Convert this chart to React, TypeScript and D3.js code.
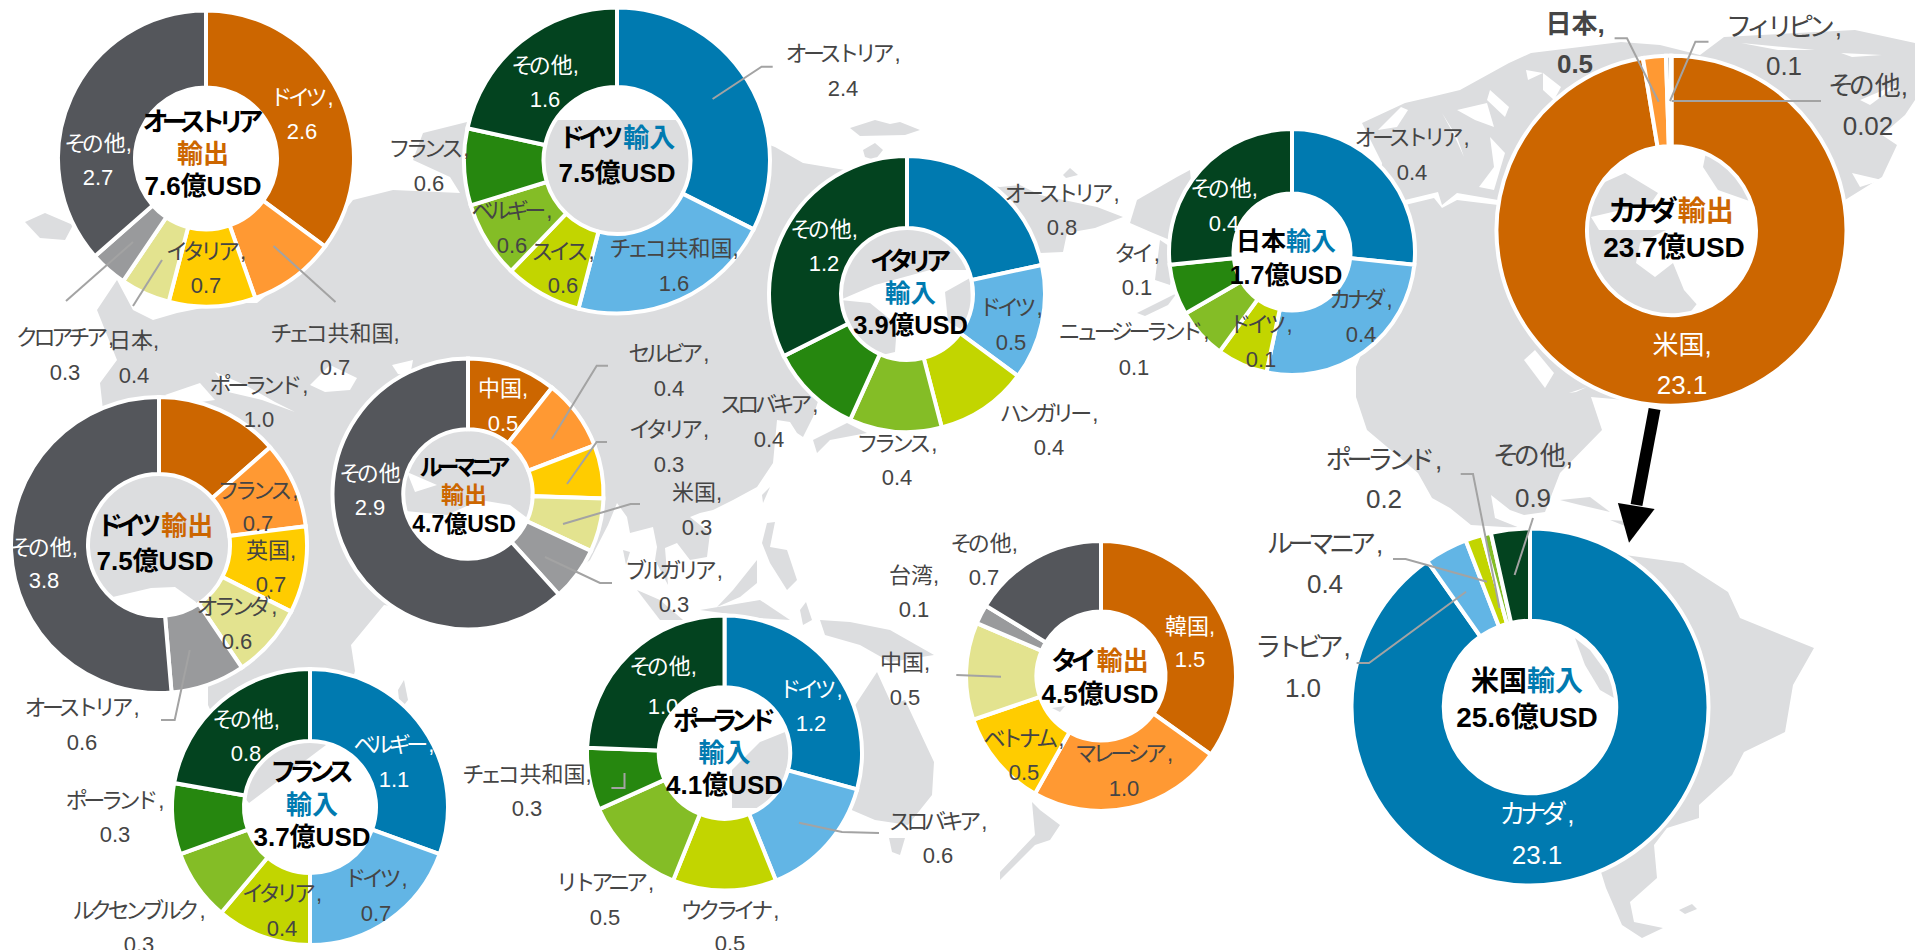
import React from "react";
import * as d3 from "d3";

const WIDTH = 1915;
const HEIGHT = 950;
const FONT = '"Liberation Sans", "Noto Sans CJK JP", sans-serif';
const ORANGE = "#CC6600";
const BLUE = "#007AB0";
const LABEL = "#454545";
const LEADER = "#A3A3A3";

const exportColors = ["#CC6600", "#FF9933", "#FFCC00", "#E3E38F", "#999A9C", "#54565B"];
const importColors = ["#007AB0", "#62B5E5", "#C2D500", "#84BD26", "#26870F", "#03431F"];

const austriaNames = ["ドイツ", "チェコ共和国", "イタリア", "日本", "クロアチア", "その他"];
const austriaValues = [2.6, 0.7, 0.7, 0.4, 0.3, 2.7];
const germanyImportNames = ["オーストリア", "チェコ共和国", "スイス", "ベルギー", "フランス", "その他"];
const germanyImportValues = [2.4, 1.6, 0.6, 0.6, 0.6, 1.6];
const italyNames = ["オーストリア", "ドイツ", "ハンガリー", "フランス", "スロバキア", "その他"];
const italyValues = [0.8, 0.5, 0.4, 0.4, 0.4, 1.2];
const japanNames = ["オーストリア", "カナダ", "ドイツ", "ニュージーランド", "タイ", "その他"];
const japanValues = [0.4, 0.4, 0.1, 0.1, 0.1, 0.4];
const canadaNames = ["米国", "日本", "フィリピン", "その他"];
const canadaValues = [23.1, 0.5, 0.1, 0.02];
const usaNames = ["カナダ", "ラトビア", "ルーマニア", "ポーランド", "その他"];
const usaValues = [23.1, 1.0, 0.4, 0.2, 0.9];
const germanyExportNames = ["ポーランド", "フランス", "英国", "オランダ", "オーストリア", "その他"];
const germanyExportValues = [1.0, 0.7, 0.7, 0.6, 0.6, 3.8];
const romaniaNames = ["中国", "セルビア", "イタリア", "米国", "ブルガリア", "その他"];
const romaniaValues = [0.5, 0.4, 0.3, 0.3, 0.3, 2.9];
const franceNames = ["ベルギー", "ドイツ", "イタリア", "ルクセンブルク", "ポーランド", "その他"];
const franceValues = [1.1, 0.7, 0.4, 0.3, 0.3, 0.8];
const polandNames = ["ドイツ", "スロバキア", "ウクライナ", "リトアニア", "チェコ共和国", "その他"];
const polandValues = [1.2, 0.6, 0.5, 0.5, 0.3, 1.0];
const thailandNames = ["韓国", "マレーシア", "ベトナム", "中国", "台湾", "その他"];
const thailandValues = [1.5, 1.0, 0.5, 0.5, 0.1, 0.7];

type Seg = { t: string; c?: string };
type Donut = {
  names: string[]; values: number[]; colors: string[];
  cx: number; cy: number; r: number;
  title: { x: number; y: number; segs: Seg[] }[]; titleSize: number;
  labels: [number, number, number][]; white: number[];
  labelSize?: number; bold?: number[]; noComma?: number[];
  leaders?: [number, number][][];
};
const exp = { t: "輸出", c: ORANGE };
const imp = { t: "輸入", c: BLUE };

const donuts: Donut[] = [
  { names: austriaNames, values: austriaValues, colors: exportColors, cx: 206, cy: 158.5, r: 146, titleSize: 26,
    title: [{ x: 203, y: 122, segs: [{ t: "オーストリア" }] }, { x: 203, y: 154, segs: [exp] }, { x: 203, y: 186, segs: [{ t: "7.6億USD" }] }],
    labels: [[302, 97, 131], [335, 333, 367], [206, 251, 285], [134, 340, 375], [65, 337, 372], [98, 143, 177]], white: [0, 5],
    leaders: [[[133, 242], [66, 301]], [[162, 260], [133, 306]], [[273.5, 246], [335.5, 302]]] },
  { names: germanyImportNames, values: germanyImportValues, colors: importColors, cx: 617, cy: 160.5, r: 151, titleSize: 26,
    title: [{ x: 617, y: 138, segs: [{ t: "ドイツ" }, imp] }, { x: 617, y: 173, segs: [{ t: "7.5億USD" }] }],
    labels: [[843, 53, 88], [674, 248, 283], [563, 251, 285], [512, 210, 245], [429, 148, 183], [545, 65, 99]], white: [5],
    leaders: [[[712.6, 99], [761.6, 66.7], [772.7, 66.7]]] },
  { names: italyNames, values: italyValues, colors: importColors, cx: 907, cy: 294, r: 136, titleSize: 25.5,
    title: [{ x: 910.6, y: 261, segs: [{ t: "イタリア" }] }, { x: 910.6, y: 293, segs: [imp] }, { x: 910.6, y: 325, segs: [{ t: "3.9億USD" }] }],
    labels: [[1062, 193, 227], [1011, 307, 342], [1049, 413, 447], [897, 443, 477], [769, 404, 439], [824, 229, 263]], white: [5] },
  { names: japanNames, values: japanValues, colors: importColors, cx: 1292, cy: 252, r: 121, titleSize: 25,
    title: [{ x: 1286, y: 241, segs: [{ t: "日本" }, imp] }, { x: 1286, y: 275, segs: [{ t: "1.7億USD" }] }],
    labels: [[1412, 137, 172], [1361, 299, 334], [1261, 324, 359], [1134, 331, 367], [1137, 253, 287], [1224, 188, 223]], white: [5] },
  { names: canadaNames, values: canadaValues, colors: ["#CC6600", "#FF9933", "#54565B", "#54565B"], cx: 1671.5, cy: 230.7, r: 173, titleSize: 28,
    title: [{ x: 1671, y: 211, segs: [{ t: "カナダ" }, exp] }, { x: 1674, y: 247, segs: [{ t: "23.7億USD" }] }],
    labels: [[1682, 345, 385], [1575, 24, 64], [1784, 27, 66], [1868, 86, 126]], white: [0], labelSize: 26, bold: [1],
    leaders: [[[1614.6, 38.3], [1627, 38.3], [1658.7, 101.7]], [[1708.5, 41.7], [1695.4, 41.7], [1670, 101]], [[1821, 101], [1671.7, 101]]] },
  { names: usaNames, values: usaValues, colors: ["#007AB0", "#62B5E5", "#C2D500", "#84BD26", "#03431F"], cx: 1530, cy: 707, r: 176.5, titleSize: 28,
    title: [{ x: 1527, y: 681, segs: [{ t: "米国" }, imp] }, { x: 1527, y: 717, segs: [{ t: "25.6億USD" }] }],
    labels: [[1537, 814, 855], [1303, 647, 688], [1325, 544, 584], [1384, 460, 499], [1533, 456, 498]], white: [0], labelSize: 26,
    leaders: [[[1356.6, 663], [1369, 663], [1466, 591.7]], [[1393, 559], [1405.6, 559], [1487, 581.7]], [[1460.7, 474], [1473, 474], [1499.5, 608]], [[1533, 518], [1514.6, 575]]] },
  { names: germanyExportNames, values: germanyExportValues, colors: exportColors, cx: 159, cy: 545, r: 146, titleSize: 26,
    title: [{ x: 155, y: 526, segs: [{ t: "ドイツ" }, exp] }, { x: 155, y: 561, segs: [{ t: "7.5億USD" }] }],
    labels: [[259, 385, 419], [258, 490, 523], [271, 550, 584], [237, 606, 641], [82, 707, 742], [44, 547, 580]], white: [5],
    leaders: [[[189.8, 650], [174.7, 720], [161, 720]]] },
  { names: romaniaNames, values: romaniaValues, colors: exportColors, cx: 468, cy: 494, r: 133.5, titleSize: 23,
    title: [{ x: 465, y: 467, segs: [{ t: "ルーマニア" }] }, { x: 464, y: 495, segs: [exp] }, { x: 464, y: 524, segs: [{ t: "4.7億USD" }] }],
    labels: [[503, 388, 423], [669, 353, 388], [669, 429, 464], [697, 492, 527], [674, 570, 604], [370, 473, 507]], white: [0, 5], noComma: [5],
    leaders: [[[608, 365.7], [596.7, 365.7], [551.8, 439]], [[607, 442], [596.7, 442], [567, 484]], [[640, 504], [630.6, 504], [563, 524]], [[612, 583], [600, 583], [545, 557]]] },
  { names: franceNames, values: franceValues, colors: importColors, cx: 310, cy: 807, r: 136, titleSize: 26,
    title: [{ x: 312, y: 772, segs: [{ t: "フランス" }] }, { x: 312, y: 805, segs: [imp] }, { x: 312, y: 837, segs: [{ t: "3.7億USD" }] }],
    labels: [[394, 744, 779], [376, 878, 913], [282, 893, 928], [139, 910, 944], [115, 800, 834], [246, 719, 753]], white: [0, 5] },
  { names: polandNames, values: polandValues, colors: importColors, cx: 724.5, cy: 753, r: 135.5, titleSize: 26,
    title: [{ x: 724.5, y: 721, segs: [{ t: "ポーランド" }] }, { x: 724.5, y: 753, segs: [imp] }, { x: 724.5, y: 785, segs: [{ t: "4.1億USD" }] }],
    labels: [[811, 689, 723], [938, 821, 855], [730, 910, 943], [605, 882, 917], [527, 774, 808], [663, 666, 706]], white: [0, 5],
    leaders: [[[799, 822.7], [842, 832], [879, 833]], [[624.5, 773], [624.5, 788], [611.4, 788]]] },
  { names: thailandNames, values: thailandValues, colors: exportColors, cx: 1101, cy: 676, r: 133, titleSize: 26,
    title: [{ x: 1100, y: 661, segs: [{ t: "タイ" }, exp] }, { x: 1100, y: 694, segs: [{ t: "4.5億USD" }] }],
    labels: [[1190, 626, 659], [1124, 753, 788], [1024, 738, 772], [905, 662, 697], [914, 575, 609], [984, 543, 577]], white: [0],
    leaders: [[[956.3, 675], [1001, 676.7]]] },
];

// Background world map outline (decoration, traced roughly)
const landShapes: [number, number][][] = [
  // Eurasia + Africa
  [[103, 410], [100, 383], [117, 360], [97, 310], [117, 280], [133, 310], [153, 320], [177, 313], [227, 303], [257, 303], [300, 268], [353, 200], [393, 190], [460, 193], [450, 177], [413, 160], [423, 133], [467, 122], [560, 120], [700, 120], [775, 147], [803, 163], [845, 170], [900, 175], [1000, 187], [1020, 185], [1040, 195], [1097, 207], [1123, 217], [1095, 228], [1067, 233], [1063, 252], [1040, 253], [1000, 260], [968, 270], [930, 270], [875, 285], [840, 300], [870, 303], [897, 325], [895, 352], [860, 360], [820, 395], [813, 417], [803, 437], [797, 433], [790, 422], [777, 420], [773, 463], [757, 487], [733, 500], [713, 510], [700, 513], [690, 517], [710, 533], [707, 557], [690, 560], [677, 543], [665, 548], [668, 585], [655, 560], [657, 547], [653, 527], [630, 533], [627, 517], [617, 503], [608, 525], [590, 560], [540, 600], [470, 622], [420, 610], [384, 605], [351, 645], [355, 671], [340, 720], [326, 745], [249, 803], [238, 790], [215, 720], [208, 705], [208, 682], [190, 670], [160, 640], [70, 600], [40, 545], [60, 470]],
  // Iceland
  [[25, 222], [45, 213], [73, 225], [65, 240], [40, 238]],
  // Arctic islands off Siberia
  [[850, 128], [875, 120], [890, 124], [900, 122], [920, 130], [905, 135], [860, 136]],
  [[863, 150], [875, 143], [883, 150], [875, 160], [865, 157]],
  [[1063, 175], [1070, 168], [1078, 175], [1066, 178]],
  // Japan-side islands in Italy's hole
  [[945, 292], [970, 278], [972, 335], [948, 322]],
  [[813, 440], [847, 423], [867, 433], [830, 440], [817, 453]],
  // Far east pieces
  [[1130, 223], [1137, 200], [1177, 177], [1190, 170], [1195, 230], [1170, 240], [1153, 233]],
  [[1160, 240], [1175, 250], [1170, 285], [1155, 280]],
  [[1137, 313], [1177, 293], [1168, 305], [1145, 316]],
  // Taiwan, Philippines, Borneo, Sumatra, New Guinea
  [[770, 487], [763, 503], [762, 495]],
  [[767, 523], [775, 522], [770, 547], [787, 550], [797, 580], [787, 590], [770, 563], [762, 543]],
  [[757, 560], [757, 583], [740, 597], [717, 607], [733, 590]],
  [[637, 590], [660, 600], [683, 620], [660, 620]],
  [[623, 550], [630, 552], [626, 565]],
  [[700, 610], [760, 600], [790, 620], [760, 618]],
  [[800, 610], [806, 602], [812, 620], [803, 625]],
  [[820, 620], [850, 622], [890, 630], [934, 655], [890, 662], [860, 645], [825, 635]],
  // Australia
  [[732, 770], [760, 742], [790, 730], [830, 700], [852, 710], [877, 672], [892, 705], [905, 700], [934, 762], [932, 795], [908, 825], [875, 820], [840, 805], [791, 808], [732, 808]],
  [[889, 838], [905, 838], [900, 855], [892, 852]],
  // New Zealand
  [[1032, 802], [1040, 810], [1060, 825], [1050, 840], [1035, 845], [1000, 880], [1000, 872], [1035, 835]],
  // Madagascar
  [[398, 690], [404, 680], [408, 700], [400, 710]],
  // small island seen inside Thailand's hole
  [[1052, 708], [1065, 706], [1060, 712]],
  // North America + Greenland
  [[1362, 123], [1405, 103], [1431, 97], [1460, 90], [1509, 63], [1531, 53], [1621, 42], [1660, 45], [1700, 55], [1724, 37], [1855, 30], [1915, 43], [1915, 100], [1905, 115], [1882, 135], [1897, 145], [1882, 177], [1845, 200], [1700, 300], [1640, 375], [1625, 400], [1591, 397], [1602, 430], [1560, 473], [1545, 512], [1524, 515], [1510, 510], [1491, 495], [1495, 518], [1520, 528], [1471, 525], [1450, 508], [1432, 498], [1418, 473], [1367, 430], [1356, 397], [1356, 367], [1375, 320], [1380, 200], [1382, 163]],
  // Caribbean
  [[1560, 500], [1590, 497], [1610, 512], [1580, 505]],
  [[1610, 520], [1640, 522], [1625, 526]],
  // sliver seen inside USA's hole
  [[1575, 638], [1590, 650], [1612, 680], [1614, 698], [1600, 690], [1585, 665]],
  // South America
  [[1625, 555], [1683, 563], [1728, 592], [1740, 618], [1814, 648], [1793, 685], [1785, 732], [1744, 752], [1732, 775], [1699, 805], [1699, 818], [1667, 828], [1654, 845], [1657, 878], [1630, 902], [1634, 922], [1663, 928], [1642, 938], [1622, 925], [1606, 888], [1601, 872], [1625, 790], [1625, 640]],
  [[1679, 910], [1692, 904], [1697, 909], [1685, 914]],
];
const waterShapes: [number, number][][] = [
  // Black Sea, Caspian, Mediterranean
  [[310, 385], [330, 365], [357, 378], [350, 390], [325, 392]],
  [[392, 365], [413, 360], [410, 376], [398, 374]],
  [[215, 372], [228, 392], [262, 400], [295, 412], [275, 402], [245, 385]],
  [[165, 395], [200, 383], [215, 400], [180, 405]],
  // seas behind the holes
  [[100, 600], [151, 588], [175, 587], [196, 602], [198, 640], [100, 640]],
  [[395, 510], [447, 515], [480, 500], [510, 505], [530, 520], [530, 570], [395, 570]],
  [[407, 472], [437, 485], [415, 492]],
  // Hudson Bay side, inside Canada's hole
  [[1587, 190], [1617, 167], [1647, 147], [1707, 147], [1703, 167], [1718, 190], [1755, 203], [1755, 307], [1699, 307], [1684, 290], [1673, 263], [1655, 277], [1636, 263], [1640, 243], [1666, 230], [1599, 230], [1591, 217], [1651, 203], [1658, 193], [1625, 173]],
  // Arctic passages
  [[1405, 200], [1438, 192], [1442, 205], [1457, 193], [1498, 200], [1498, 205], [1457, 200], [1442, 208], [1434, 198], [1405, 205]],
  [[1457, 110], [1487, 103], [1494, 127], [1475, 120]],
  [[1490, 90], [1509, 107], [1505, 117], [1487, 100]],
  [[1526, 70], [1543, 73], [1528, 80]],
  [[1543, 73], [1561, 87], [1554, 100], [1543, 90]],
  [[1401, 107], [1408, 110], [1397, 127], [1378, 130]],
  [[1442, 113], [1453, 133], [1464, 157], [1457, 137]],
  [[1490, 137], [1505, 153], [1494, 190], [1479, 187], [1494, 167]],
  [[1741, 43], [1815, 50], [1778, 50]],
  [[1841, 53], [1882, 55], [1852, 57]],
  [[1860, 100], [1900, 83], [1870, 105]],
  [[1852, 173], [1882, 180], [1860, 187]],
  [[1535, 350], [1554, 373], [1545, 388], [1524, 360]],
  [[1569, 393], [1587, 387], [1576, 392]],
];

const pathFn = d3.line<[number, number]>().curve(d3.curveLinear);
const fmt = (v: number) => (v < 0.1 ? String(v) : v.toFixed(1));

// Kana runs are set tight, the way the reference's typeface sets them;
// the last kana of a run keeps its full advance so the next glyph does not collide.
function Runs({ s, spacing, fill }: { s: string; spacing: number; fill?: string }) {
  const parts = s.match(/[\u3040-\u30ff]+|[^\u3040-\u30ff]+/g) || [];
  return (
    <>
      {parts.map((p, i) => {
        if (!/[\u3040-\u30ff]/.test(p)) return <tspan key={i} fill={fill}>{p}</tspan>;
        return (
          <React.Fragment key={i}>
            {p.length > 1 && <tspan fill={fill} letterSpacing={spacing}>{p.slice(0, -1)}</tspan>}
            <tspan fill={fill}>{p.slice(-1)}</tspan>
          </React.Fragment>
        );
      })}
    </>
  );
}

function DonutChart({ d }: { d: Donut }) {
  const pie = d3.pie<number>().sort(null).value((v) => v);
  const arc = d3.arc<d3.PieArcDatum<number>>().innerRadius(d.r * 0.5 - 2).outerRadius(d.r + 2);
  return (
    <g transform={`translate(${d.cx},${d.cy})`}>
      {pie(d.values).map((s, i) => (
        <path key={i} d={arc(s) || ""} fill={d.colors[i]} stroke="#fff" strokeWidth={4} />
      ))}
    </g>
  );
}

function DonutText({ d }: { d: Donut }) {
  const size = d.labelSize ?? 22;
  return (
    <g style={{ fontFamily: FONT }}>
      {(d.leaders ?? []).map((l, i) => (
        <path key={i} d={pathFn(l) || ""} fill="none" stroke={LEADER} strokeWidth={2} />
      ))}
      {d.names.map((n, i) => {
        const [x, y1, y2] = d.labels[i];
        const fill = d.white.includes(i) ? "#fff" : LABEL;
        const weight = d.bold?.includes(i) ? 700 : 400;
        const comma = d.noComma?.includes(i) ? "" : ",";
        return (
          <g key={n} fill={fill} fontSize={size} fontWeight={weight} textAnchor="middle">
            <text x={x} y={y1} dominantBaseline="central"><Runs s={n + comma} spacing={-0.2 * size} /></text>
            <text x={x} y={y2} dominantBaseline="central">{fmt(d.values[i])}</text>
          </g>
        );
      })}
      {d.title.map((line, i) => (
        <text key={i} x={line.x} y={line.y} dominantBaseline="central" textAnchor="middle" fontSize={d.titleSize} fontWeight={700} fill="#000">
          {line.segs.map((s, j) => (
            <Runs key={j} s={s.t} spacing={-0.26 * d.titleSize} fill={s.c ?? "#000"} />
          ))}
        </text>
      ))}
    </g>
  );
}

const arrowLine: [number, number][] = [[1654.6, 409], [1636.5, 505]];
const arrowHead: [number, number][] = [[1617.9, 503], [1654.6, 509], [1629, 542.7]];

export default function App() {
  return (
    <svg width={WIDTH} height={HEIGHT} style={{ position: "absolute", left: 0, top: 0, background: "#fff" }}>
      <g fill="#DCDDDF">
        {landShapes.map((s, i) => (
          <path key={i} d={(pathFn(s) || "") + "Z"} />
        ))}
      </g>
      <g fill="#fff">
        {waterShapes.map((s, i) => (
          <path key={i} d={(pathFn(s) || "") + "Z"} />
        ))}
      </g>
      {donuts.map((d, i) => <DonutChart key={i} d={d} />)}
      <path d={pathFn(arrowLine) || ""} stroke="#000" strokeWidth={12} fill="none" />
      <path d={(pathFn(arrowHead) || "") + "Z"} fill="#000" />
      {donuts.map((d, i) => <DonutText key={i} d={d} />)}
    </svg>
  );
}
